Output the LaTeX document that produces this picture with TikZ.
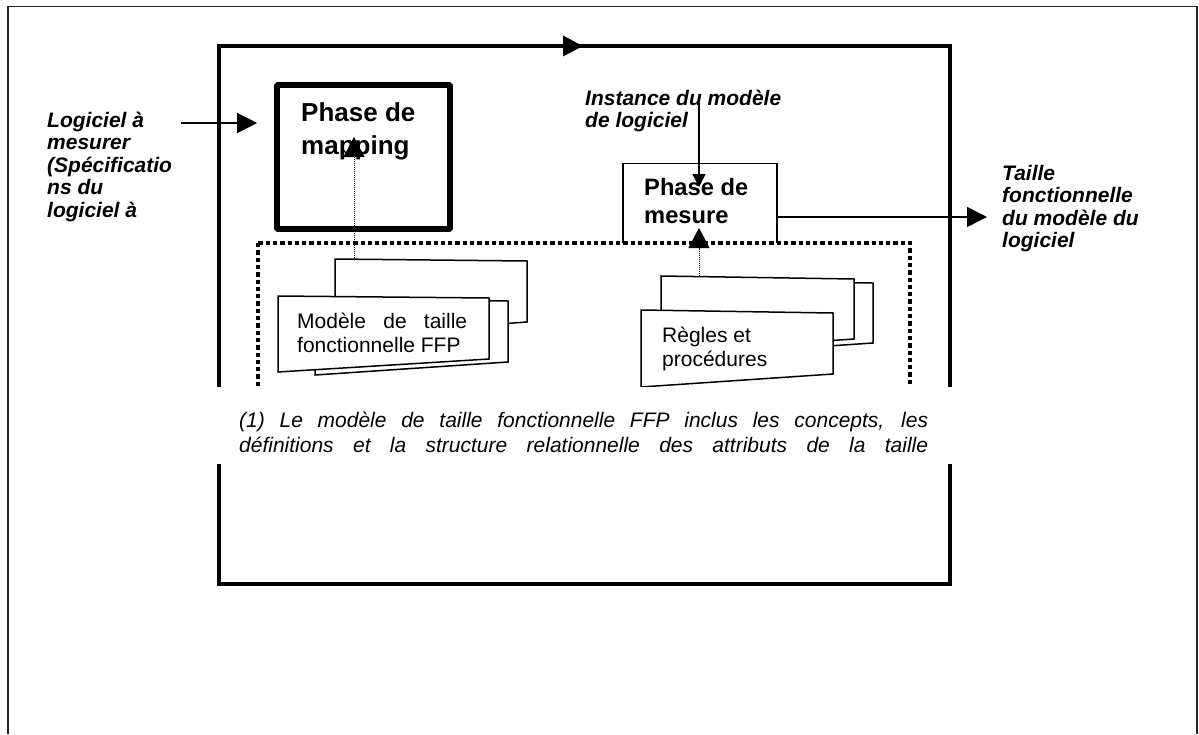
\documentclass[tikz,border=0pt]{standalone}
\usepackage{fontspec}
\setmainfont{Liberation Sans}
\usetikzlibrary{arrows.meta}
\newcommand{\stackl}[1]{\vtop{\halign{##\hfil\cr#1\crcr}}}
\begin{document}
\begin{tikzpicture}[x=1pt,y=-1pt,
  outerframe/.style={draw=black!85,line width=1.5pt},
  innerframe/.style={draw,line width=3.5pt},
  mapbox/.style={draw,line width=5.7pt,rounded corners=1pt,minimum width=173pt,minimum height=144pt,inner sep=0pt},
  measbox/.style={draw,line width=1.4pt,minimum width=154pt,minimum height=82.5pt,inner sep=0pt},
  sheet/.style={draw,fill=white,line width=1.5pt,line join=miter},
  arr/.style={line width=1.4pt,-{Triangle[length=20pt,width=20pt]}},
  smallarr/.style={line width=1.4pt,-{Triangle[length=13pt,width=13pt]}},
  dotarr/.style={line width=1pt,dash pattern=on 1pt off 1pt,-{Triangle[length=20pt,width=21pt]}},
  dotbox/.style={draw,fill=white,line width=3.8pt,dash pattern=on 4.3pt off 3pt},
  lbl/.style={anchor=base west,inner sep=0pt,font=\fontsize{21}{22.6}\selectfont\bfseries\itshape},
  doctxt/.style={anchor=base west,inner sep=0pt,font=\fontsize{21}{24}\selectfont},
  captxt/.style={anchor=base west,inner sep=0pt,font=\fontsize{21}{25}\selectfont\itshape},
]
\useasboundingbox (0,0) rectangle (1199,734);
\fill[white] (0,0) rectangle (1199,734);
% outer frame (open at bottom)
\draw[outerframe] (8,734) -- (8,6.5) -- (1197,6.5) -- (1197,734);
% inner frame
\draw[innerframe] (219,46) rectangle (950,584);
% top arrow
\coordinate (ts) at (468,46);
\coordinate (te) at (583,46);
\draw[arr,line width=3.5pt] (ts) -- (te);
% mapping phase
\node[mapbox] (map) at (363.5,157) {};
\node[anchor=base west,inner sep=0pt,font=\fontsize{26}{33.5}\selectfont\bfseries] (maptxt) at (301,121) {\stackl{Phase de\cr mapping}};
% measure phase
\node[measbox] (meas) at (700,204.8) {};
\node[anchor=base west,inner sep=0pt,font=\fontsize{23.7}{28}\selectfont\bfseries] (meastxt) at (644,195) {\stackl{Phase de\cr mesure}};
% dotted container
\draw[dotbox] (258,243) rectangle (910,462);
% left document stack
\draw[sheet] (335,259) -- (527,261) -- (527,322) -- (335,336) -- cycle;
\draw[sheet] (315,300) -- (508,301) -- (508,362) -- (315,375) -- cycle;
\draw[sheet] (278,296) -- (489,298) -- (489,359) -- (278,372) -- cycle;
\node[doctxt] (ltxt) at (297,328) {\stackl{\makebox[170pt][s]{Modèle de taille}\cr fonctionnelle FFP}};
% right document stack
\draw[sheet] (680,282) -- (873,283) -- (873,343) -- (680,356) -- cycle;
\draw[sheet] (661,276) -- (854,279) -- (854,339) -- (661,352) -- cycle;
\draw[sheet] (641,310) -- (833,313) -- (833,374) -- (641,387) -- cycle;
\node[doctxt] (rtxt) at (662,342) {\stackl{Règles et\cr procédures}};
% dotted arrows from documents
\coordinate (ltop) at (354,258);
\coordinate (maptip) at (354,137);
\draw[dotarr] (ltop) -- (maptip);
\coordinate (rtop) at (699,276);
\coordinate (meastip) at (699,228);
\draw[dotarr] (rtop) -- (meastip);
% caption band
\fill[white] (214,387) rectangle (956,464);
\node[captxt] (cap) at (239,427) {\stackl{\makebox[689pt][s]{(1) Le modèle de taille fonctionnelle FFP inclus les concepts, les}\cr
\makebox[689pt][s]{définitions et la structure relationnelle des attributs de la taille}}};
% input label and arrow
\node[lbl] (logtxt) at (47,127) {\stackl{Logiciel à\cr mesurer\cr (Spécificatio\cr ns du\cr logiciel à}};
\coordinate (lin) at (181,123);
\draw[arr,shorten >=17pt] (lin) -- (lin -| map.west);
% instance label and arrow
\node[lbl] (insttxt) at (585,105) {\stackl{Instance du modèle\cr de logiciel}};
\coordinate (instart) at (699,103);
\coordinate (insttip) at (699,187);
\draw[smallarr] (instart) -- (insttip);
% output label and arrow
\node[lbl] (tailtxt) at (1002,180) {\stackl{Taille\cr fonctionnelle\cr du modèle du\cr logiciel}};
\coordinate (tailtip) at (987,217);
\draw[arr] (meas.east |- tailtip) -- (tailtip);
\end{tikzpicture}
\end{document}
